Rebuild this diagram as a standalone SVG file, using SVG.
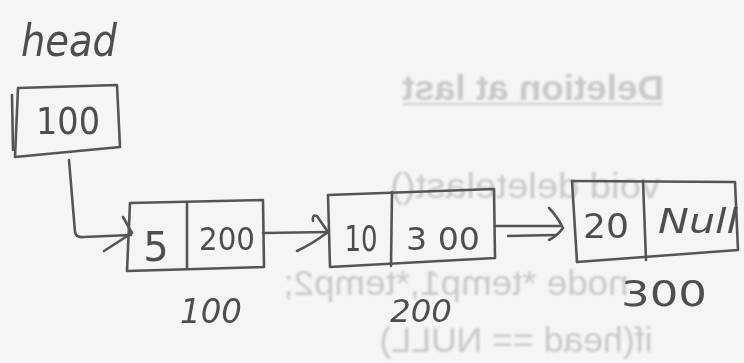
<svg xmlns="http://www.w3.org/2000/svg" width="744" height="363" viewBox="0 0 744 363">
  <defs>
    <filter id="soft" x="-5%" y="-20%" width="110%" height="140%">
      <feGaussianBlur stdDeviation="0.8"/>
    </filter>
    <style>
      .pen { fill: none; stroke: #555; stroke-width: 2.6; stroke-linecap: round; stroke-linejoin: round; }
      .hand { font-family: "DejaVu Sans", "Liberation Sans", sans-serif; fill: #4e4e4e; }
      .ghost { font-family: "Liberation Sans", Arial, sans-serif; fill: #c9c9c9; font-size: 35px; }
    </style>
  </defs>

  <rect width="744" height="363" fill="#f5f5f3"/>

  <!-- text showing through from the reverse side of the sheet -->
  <g id="reverse-side" filter="url(#soft)">
    <text class="ghost" font-weight="bold" font-size="36" text-anchor="middle" textLength="262" lengthAdjust="spacingAndGlyphs" transform="translate(533,100) scale(-1,1)">Deletion at last</text>
    <line x1="403" y1="104" x2="663" y2="104" stroke="#cdcdcd" stroke-width="2.2"/>
    <text class="ghost" text-anchor="middle" textLength="270" lengthAdjust="spacingAndGlyphs" transform="translate(525,198) scale(-1,1)">void deletelast()</text>
    <text class="ghost" text-anchor="middle" textLength="345" lengthAdjust="spacingAndGlyphs" transform="translate(456,295) scale(-1,1)">node *temp1,*temp2;</text>
    <text class="ghost" text-anchor="middle" textLength="273" lengthAdjust="spacingAndGlyphs" transform="translate(516,352) scale(-1,1)">if(head == NULL)</text>
  </g>

  <!-- head pointer -->
  <g id="head">
    <text class="hand" x="21" y="56" font-size="44" font-style="italic" textLength="96" lengthAdjust="spacingAndGlyphs">head</text>
    <path class="pen" d="M18,88 L117,85 L120,147 L15,157 Z"/>
    <path class="pen" d="M12,95 L13,150"/>
    <text class="hand" x="68" y="134" font-size="38" text-anchor="middle" textLength="64" lengthAdjust="spacingAndGlyphs">100</text>
  </g>

  <!-- node at address 100 -->
  <g id="node1">
    <path class="pen" d="M130,203 L263,200 L264,267 L127,271 Z"/>
    <path class="pen" d="M187,203 L187,268"/>
    <text class="hand" x="156" y="261" font-size="40" text-anchor="middle">5</text>
    <text class="hand" x="227" y="250" font-size="32" text-anchor="middle" textLength="56" lengthAdjust="spacingAndGlyphs">200</text>
    <text class="hand" x="211" y="323" font-size="34" font-style="italic" text-anchor="middle" textLength="62" lengthAdjust="spacingAndGlyphs">100</text>
  </g>

  <!-- node at address 200 -->
  <g id="node2">
    <path class="pen" d="M328,195 L494,189 L495,258 L330,267 Z"/>
    <path class="pen" d="M392,192 L391,266"/>
    <text class="hand" x="361" y="251" font-size="36" text-anchor="middle" textLength="33" lengthAdjust="spacingAndGlyphs">10</text>
    <text class="hand" x="443" y="250" font-size="32" text-anchor="middle" textLength="74" lengthAdjust="spacingAndGlyphs">3 00</text>
    <text class="hand" x="421" y="322" font-size="32" font-style="italic" text-anchor="middle" textLength="62" lengthAdjust="spacingAndGlyphs">200</text>
  </g>

  <!-- node at address 300 -->
  <g id="node3">
    <path class="pen" d="M572,181 L735,182 L738,250 L577,262"/>
    <path class="pen" d="M572,181 L577,262"/>
    <path class="pen" d="M643,181 L646,260"/>
    <text class="hand" x="606" y="238" font-size="34" text-anchor="middle" textLength="46" lengthAdjust="spacingAndGlyphs">20</text>
    <text class="hand" x="698" y="233" font-size="34" font-style="italic" text-anchor="middle" textLength="80" lengthAdjust="spacingAndGlyphs">Null</text>
    <text class="hand" x="664" y="306" font-size="36" text-anchor="middle" textLength="86" lengthAdjust="spacingAndGlyphs">300</text>
  </g>

  <!-- pointers between the nodes -->
  <g id="connectors">
    <path class="pen" d="M69,160 L75,232 Q76,238 84,237 L131,235"/>
    <path class="pen" d="M123,217 L132,233 L104,251"/>
    <path class="pen" d="M263,233 L328,232"/>
    <path class="pen" d="M313,221 Q312,214 317,216 Q321,222 328,232 Q312,244 297,251"/>
    <path class="pen" d="M495,226 L560,226"/>
    <path class="pen" d="M508,236 L556,235"/>
    <path class="pen" d="M549,208 Q557,216 563,228 Q557,236 549,240"/>
  </g>
</svg>
